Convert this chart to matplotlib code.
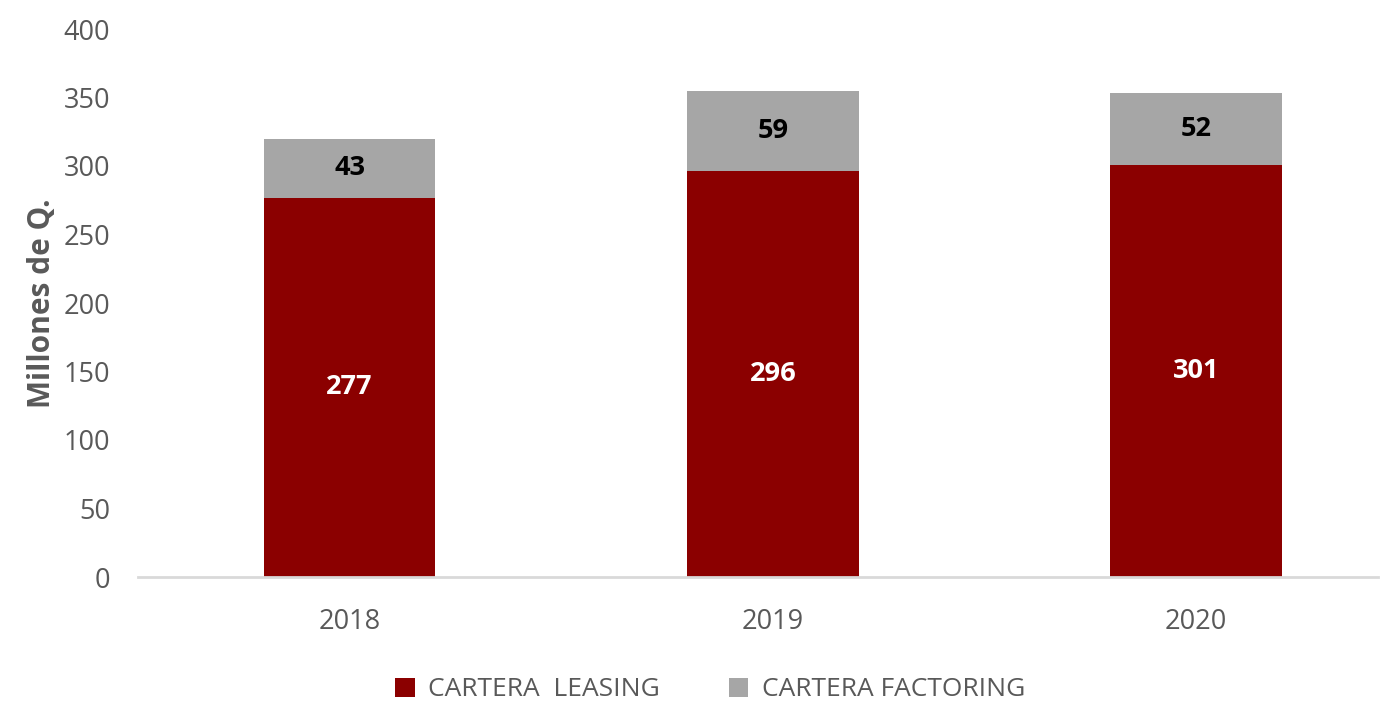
import matplotlib
matplotlib.use("Agg")
import matplotlib.pyplot as plt
import numpy as np

years = ["2018", "2019", "2020"]
leasing = [277, 296, 301]
factoring = [43, 59, 52]
series_names = ["CARTERA  LEASING", "CARTERA FACTORING"]
yticks = [0, 50, 100, 150, 200, 250, 300, 350, 400]

plt.rcParams['font.family'] = ['Open Sans', 'DejaVu Sans']

fig = plt.figure(figsize=(13.91, 7.04), dpi=100)
ax = fig.add_axes([138/1391, 127/704, (1378-138)/1391, (577-29)/704])

x = np.arange(len(years))
w = 0.405
red = "#8B0000"
gray = "#A6A6A6"
b1 = ax.bar(x, leasing, w, color=red, label=series_names[0], zorder=2)
b2 = ax.bar(x, factoring, w, bottom=leasing, color=gray, label=series_names[1], zorder=2)

for xi, l, f in zip(x, leasing, factoring):
    ax.text(xi, l/2, str(l), ha='center', va='center', color='white', fontsize=19.5, fontweight='bold')
    ax.text(xi, l + f/2, str(f), ha='center', va='center', color='black', fontsize=19.5, fontweight='bold')

ax.set_xlim(-0.5, 2.43)
ax.set_ylim(0, 400)
ax.set_yticks(yticks)
ax.set_xticks(x)
ax.set_xticklabels(years)
ax.tick_params(axis='both', length=0, labelsize=19.5, labelcolor="#595959")
ax.tick_params(axis='y', pad=20)
ax.tick_params(axis='x', pad=22)
for s in ['top', 'right', 'left']:
    ax.spines[s].set_visible(False)
ax.spines['bottom'].set_color("#D9D9D9")
ax.spines['bottom'].set_linewidth(2)
ax.spines['bottom'].set_zorder(3)

ax.set_ylabel("Millones de Q.", fontsize=21.5, fontweight='bold', color="#595959", labelpad=5)

leg = fig.legend(handles=[b1, b2], labels=series_names, loc='center', bbox_to_anchor=(710/1391, 1-690/704),
                 ncol=2, frameon=False, fontsize=19, handlelength=0.75, handleheight=0.75,
                 columnspacing=2.6, handletextpad=0.5)
for t in leg.get_texts():
    t.set_color("#595959")

fig.savefig("out.png", dpi=100)
